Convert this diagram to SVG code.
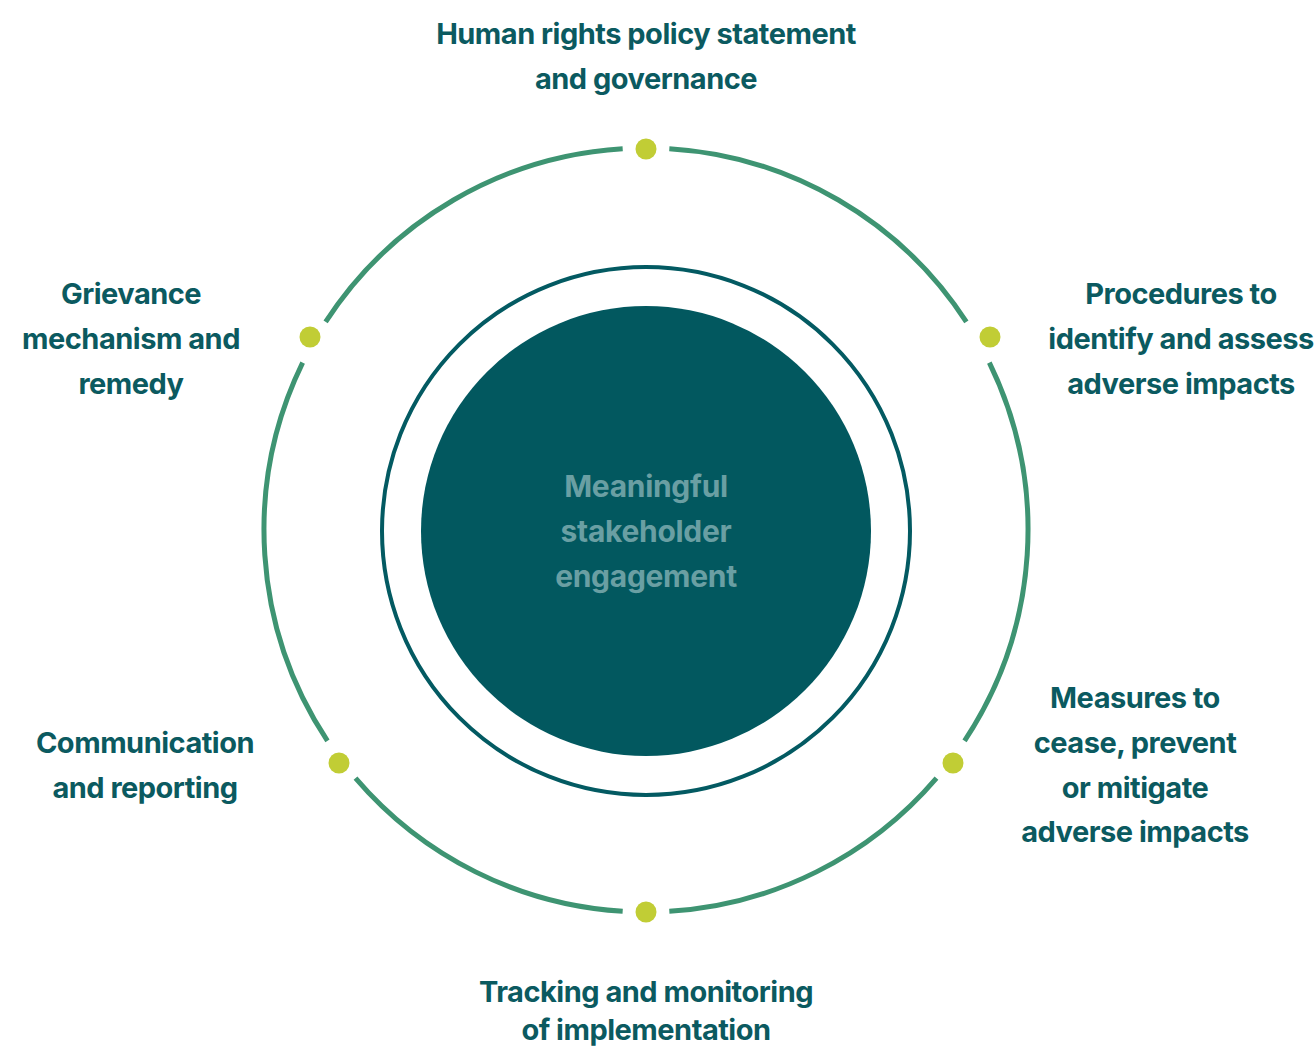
<svg xmlns="http://www.w3.org/2000/svg" width="1316" height="1048" viewBox="0 0 1316 1048">
  <style>
    .label { font-family: Inter, "Liberation Sans", sans-serif; font-weight: 700; font-size: 29px; letter-spacing: -0.5px; fill: #0b5a60; text-anchor: middle; }
    .core-text { font-family: Inter, "Liberation Sans", sans-serif; font-weight: 700; font-size: 30px; letter-spacing: -0.3px; fill: #6a9fa3; text-anchor: middle; }
    .ring { fill: none; stroke: #3e9472; stroke-width: 5; }
    .dot { fill: #c1cd35; }
  </style>
  <rect width="1316" height="1048" fill="#ffffff"/>

  <!-- outer cycle: arcs between the six stages -->
  <g id="connectors">
    <path class="ring" d="M669.32 148.71 A382 382 0 0 1 966.37 321.95"/>
    <path class="ring" d="M989.34 362.54 A382 382 0 0 1 964.55 740.84"/>
    <path class="ring" d="M936.48 778.09 A382 382 0 0 1 669.32 911.29"/>
    <path class="ring" d="M622.68 911.29 A382 382 0 0 1 355.52 778.09"/>
    <path class="ring" d="M327.45 740.84 A382 382 0 0 1 302.66 362.54"/>
    <path class="ring" d="M325.63 321.95 A382 382 0 0 1 622.68 148.71"/>
  </g>

  <!-- centre: stakeholder engagement -->
  <g id="core">
    <circle cx="646" cy="531" r="264" fill="none" stroke="#035a62" stroke-width="4"/>
    <circle cx="646" cy="531" r="225" fill="#02585f"/>
    <text class="core-text" x="646" y="497">Meaningful</text>
    <text class="core-text" x="646" y="542">stakeholder</text>
    <text class="core-text" x="646" y="587">engagement</text>
  </g>

  <g id="policy">
    <circle class="dot" cx="646" cy="149" r="10.5"/>
    <text class="label" x="646" y="44">Human rights policy statement</text>
    <text class="label" x="646" y="89">and governance</text>
  </g>

  <g id="identify">
    <circle class="dot" cx="990" cy="337" r="10.5"/>
    <text class="label" x="1181" y="304">Procedures to</text>
    <text class="label" x="1181" y="349">identify and assess</text>
    <text class="label" x="1181" y="394">adverse impacts</text>
  </g>

  <g id="measures">
    <circle class="dot" cx="953" cy="763" r="10.5"/>
    <text class="label" x="1135" y="708">Measures to</text>
    <text class="label" x="1135" y="753">cease, prevent</text>
    <text class="label" x="1135" y="798">or mitigate</text>
    <text class="label" x="1135" y="842">adverse impacts</text>
  </g>

  <g id="tracking">
    <circle class="dot" cx="646" cy="912" r="10.5"/>
    <text class="label" x="646" y="1002">Tracking and monitoring</text>
    <text class="label" x="646" y="1040">of implementation</text>
  </g>

  <g id="communication">
    <circle class="dot" cx="339" cy="763" r="10.5"/>
    <text class="label" x="145" y="753">Communication</text>
    <text class="label" x="145" y="798">and reporting</text>
  </g>

  <g id="grievance">
    <circle class="dot" cx="310" cy="337" r="10.5"/>
    <text class="label" x="131" y="304">Grievance</text>
    <text class="label" x="131" y="349">mechanism and</text>
    <text class="label" x="131" y="394">remedy</text>
  </g>
</svg>
